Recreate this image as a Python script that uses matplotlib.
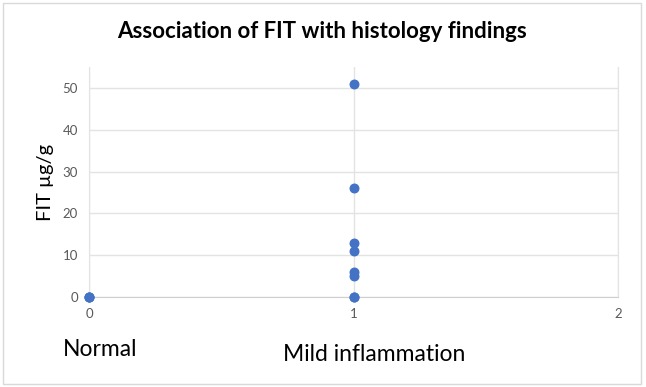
import matplotlib.pyplot as plt
from matplotlib.patches import Rectangle

plt.rcParams['font.family'] = ['Lato', 'DejaVu Sans']

# histology group (0 = normal, 1 = mild inflammation) and FIT values
group = [0, 0, 0, 1, 1, 1, 1, 1, 1, 1, 1]
fit = [0, 0, 0, 51, 26, 13, 11, 6, 5, 0, 0]
x_ticks = [0, 1, 2]
y_ticks = [0, 10, 20, 30, 40, 50]
group_names = ['Normal', 'Mild inflammation']

fig = plt.figure(figsize=(6.46, 3.87), dpi=100)
ax = fig.add_axes([0.1378, 0.2326, 0.819, 0.594])

ax.scatter(group, fit, s=38, color='#4472C4', zorder=3, clip_on=False)

ax.set_xlim(0, 2)
ax.set_ylim(0, 55)
ax.set_xticks(x_ticks)
ax.set_yticks(y_ticks)
ax.grid(True, color='#e3e3e3', linewidth=1)
ax.set_axisbelow(True)
ax.spines['top'].set_visible(False)
for s in ['left', 'right']:
    ax.spines[s].set_color('#e3e3e3')
ax.spines['bottom'].set_color('#cfcfcf')
ax.tick_params(length=0, labelsize=9.5, labelcolor='#595959', pad=8)

ax.set_ylabel('FIT µg/g', fontsize=14.5, labelpad=6)
fig.text(0.499, 0.918, 'Association of FIT with histology findings',
         ha='center', va='center', fontsize=16, fontweight='bold')
fig.text(0.155, 0.098, group_names[0], ha='center', va='center', fontsize=16.5)
fig.text(0.579, 0.083, group_names[1], ha='center', va='center', fontsize=16.5)

fig.patches.append(Rectangle((0.005, 0.008), 0.988, 0.984, transform=fig.transFigure,
                             fill=False, edgecolor='#d9d9d9', linewidth=1))

fig.savefig('out.png', dpi=100)
